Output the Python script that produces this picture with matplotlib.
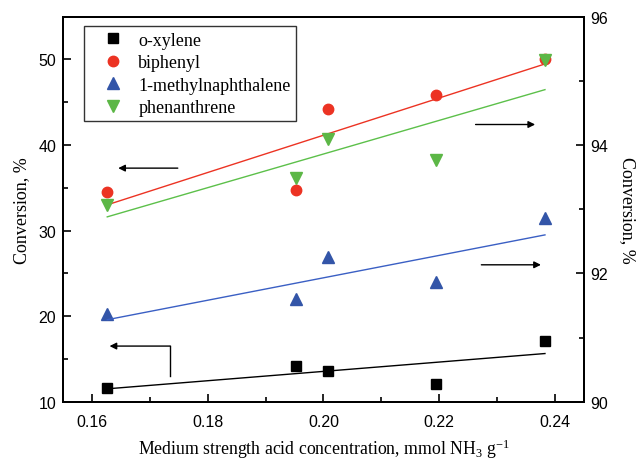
import matplotlib.pyplot as plt
import numpy as np

# acid concentration, mmol NH3 / g
acid = [0.1626, 0.1953, 0.2008, 0.2194, 0.2383]

# left axis (%)
oxylene = [11.6, 14.2, 13.6, 12.1, 17.1]
biphenyl = [34.5, 34.8, 44.2, 45.8, 50.0]
# right axis (%)
methylnaph = [91.37, 91.60, 92.25, 91.86, 92.86]
phenanthrene = [93.07, 93.48, 94.10, 93.76, 95.32]

labels = ['o-xylene', 'biphenyl', '1-methylnaphthalene', 'phenanthrene']

serif = 'Liberation Serif'
sans = 'Liberation Sans'
plt.rcParams['font.family'] = serif
plt.rcParams['mathtext.fontset'] = 'custom'
plt.rcParams['mathtext.rm'] = serif
plt.rcParams['mathtext.default'] = 'regular'

fig = plt.figure(figsize=(6.38, 4.6), dpi=100)
ax = fig.add_axes([0.0992, 0.1246, 0.8157, 0.8369])
ax2 = ax.twinx()

x = np.array(acid)
xf = np.array([x.min(), x.max()])


def fit(y):
    k, b = np.polyfit(x, y, 1)
    return k * xf + b


# left axis series
h1, = ax.plot(x, oxylene, 's', color='black', ms=6.5, ls='none', label=labels[0])
h2, = ax.plot(x, biphenyl, 'o', color='#ec3323', ms=7.5, ls='none', label=labels[1])
ax.plot(xf, fit(oxylene), color='black', lw=1)
ax.plot(xf, fit(biphenyl), color='#ec3323', lw=1)

# right axis series
h3, = ax2.plot(x, methylnaph, '^', color='#3355a8', ms=8, ls='none', label=labels[2])
h4, = ax2.plot(x, phenanthrene, 'v', color='#5cb746', ms=8, ls='none', label=labels[3])
ax2.plot(xf, fit(methylnaph), color='#3a5fc4', lw=1)
ax2.plot(xf, fit(phenanthrene), color='#5cc04a', lw=1)

ax.set_xlim(0.155, 0.245)
ax.set_ylim(10, 55)
ax2.set_ylim(90, 96)

ax.set_xticks([0.16, 0.18, 0.20, 0.22, 0.24])
ax.set_xticks([0.17, 0.19, 0.21, 0.23], minor=True)
ax.set_yticks([10, 20, 30, 40, 50])
ax.set_yticks([15, 25, 35, 45], minor=True)
ax2.set_yticks([90, 92, 94, 96])
ax2.set_yticks([91, 93, 95], minor=True)
ax.xaxis.set_major_formatter(plt.FormatStrFormatter('%.2f'))

for a in (ax, ax2):
    a.tick_params(which='major', direction='in', length=6, width=1.2, labelsize=11.5)
    a.tick_params(which='minor', direction='in', length=3.5, width=1.2)
    for s in a.spines.values():
        s.set_linewidth(1.4)
    for t in a.get_xticklabels() + a.get_yticklabels():
        t.set_fontfamily(sans)
ax.tick_params(axis='x', which='both', top=False, pad=9)
ax.tick_params(axis='y', which='both', right=False, pad=5)
ax2.tick_params(axis='y', pad=5)

ax.set_xlabel('Medium strength acid concentration, mmol NH$_3$ g$^{-1}$',
              fontsize=12.8, labelpad=5)
ax.set_ylabel('Conversion, %', fontsize=13, labelpad=6)
ax2.set_ylabel('Conversion, %', fontsize=13, rotation=-90, labelpad=20)

# arrows pointing to the relevant axis
akw = dict(arrowstyle='-|>', color='black', lw=1, mutation_scale=10, shrinkA=0, shrinkB=0)
ax.annotate('', xy=(0.1645, 37.3), xytext=(0.1748, 37.3), arrowprops=akw)
ax.annotate('', xy=(0.2366, 42.4), xytext=(0.2263, 42.4), arrowprops=akw)
ax.annotate('', xy=(0.2376, 26.0), xytext=(0.2273, 26.0), arrowprops=akw)
ax.plot([0.1735, 0.1735], [13.0, 16.5], color='black', lw=1)
ax.annotate('', xy=(0.1630, 16.5), xytext=(0.1735, 16.5), arrowprops=akw)

leg = ax2.legend(handles=[h1, h2, h3, h4], loc='upper left',
                 bbox_to_anchor=(0.04, 0.975), frameon=True, fancybox=False,
                 edgecolor='black', prop={'family': serif, 'size': 13},
                 handletextpad=0.1, borderpad=0.3, labelspacing=0.3,
                 handlelength=2.6, borderaxespad=0)
leg.get_frame().set_linewidth(1.0)

fig.savefig('out.png', dpi=100)
